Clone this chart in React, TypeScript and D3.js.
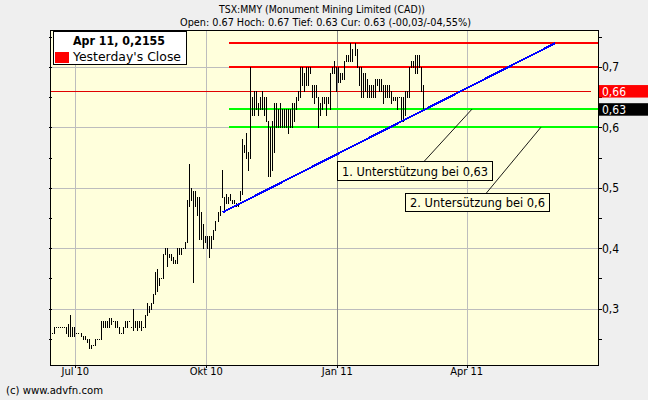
import React from "react";
import * as d3 from "d3";

// ---- data ----
const highs = [
  0.26, 0.27, 0.27, 0.27, 0.27, 0.27, 0.27, 0.27, 0.275, 0.29, 0.27, 0.27,
  0.26, 0.26, 0.26, 0.255, 0.255, 0.25, 0.25, 0.24, 0.24, 0.25, 0.25, 0.25,
  0.28, 0.28, 0.28, 0.28, 0.285, 0.285, 0.28, 0.28, 0.28, 0.27, 0.26, 0.27,
  0.28, 0.28, 0.28, 0.27, 0.30, 0.28, 0.28, 0.28, 0.28, 0.27, 0.29, 0.31,
  0.305, 0.31, 0.325, 0.36, 0.365, 0.35, 0.35, 0.39, 0.40, 0.40, 0.39, 0.39,
  0.385, 0.38, 0.40, 0.40, 0.40, 0.40, 0.41, 0.48, 0.54, 0.50, 0.495, 0.495,
  0.485, 0.485, 0.46, 0.44, 0.42, 0.42, 0.42, 0.42, 0.43, 0.445, 0.46, 0.47,
  0.53, 0.485, 0.49, 0.485, 0.49, 0.48, 0.48, 0.475, 0.475, 0.495, 0.58, 0.57,
  0.59, 0.56, 0.70, 0.65, 0.66, 0.66, 0.64, 0.65, 0.66, 0.65, 0.65, 0.61,
  0.60, 0.61, 0.64, 0.64, 0.63, 0.64, 0.63, 0.63, 0.63, 0.63, 0.63, 0.64,
  0.64, 0.65, 0.66, 0.70, 0.70, 0.69, 0.70, 0.70, 0.70, 0.67, 0.67, 0.67,
  0.65, 0.64, 0.65, 0.65, 0.65, 0.65, 0.69, 0.70, 0.71, 0.70, 0.70, 0.69,
  0.69, 0.71, 0.72, 0.72, 0.74, 0.73, 0.74, 0.73, 0.70, 0.70, 0.69, 0.69,
  0.68, 0.67, 0.67, 0.67, 0.68, 0.68, 0.68, 0.68, 0.67, 0.67, 0.67, 0.67,
  0.66, 0.65, 0.65, 0.65, 0.65, 0.65, 0.65, 0.66, 0.66, 0.70, 0.71, 0.71,
  0.72, 0.72, 0.72, 0.70, 0.67,
];
const lows = [
  0.26, 0.26, 0.27, 0.27, 0.27, 0.27, 0.27, 0.26, 0.255, 0.255, 0.255, 0.255,
  0.26, 0.26, 0.255, 0.25, 0.25, 0.245, 0.235, 0.235, 0.24, 0.24, 0.25, 0.25,
  0.25, 0.27, 0.27, 0.27, 0.27, 0.275, 0.28, 0.27, 0.27, 0.26, 0.26, 0.26,
  0.27, 0.27, 0.28, 0.27, 0.265, 0.27, 0.265, 0.27, 0.265, 0.27, 0.27, 0.29,
  0.295, 0.30, 0.31, 0.325, 0.33, 0.34, 0.35, 0.35, 0.39, 0.37, 0.385, 0.38,
  0.375, 0.375, 0.375, 0.39, 0.39, 0.40, 0.40, 0.41, 0.47, 0.48, 0.345, 0.47,
  0.455, 0.415, 0.415, 0.40, 0.41, 0.40, 0.385, 0.40, 0.415, 0.43, 0.445, 0.455,
  0.485, 0.46, 0.475, 0.475, 0.48, 0.475, 0.475, 0.47, 0.47, 0.48, 0.49, 0.56,
  0.55, 0.53, 0.55, 0.62, 0.62, 0.63, 0.62, 0.63, 0.63, 0.62, 0.61, 0.52,
  0.52, 0.53, 0.56, 0.60, 0.60, 0.60, 0.60, 0.60, 0.60, 0.59, 0.60, 0.60,
  0.61, 0.63, 0.645, 0.65, 0.67, 0.66, 0.67, 0.67, 0.69, 0.65, 0.64, 0.65,
  0.60, 0.62, 0.63, 0.64, 0.62, 0.64, 0.63, 0.69, 0.69, 0.66, 0.675, 0.675,
  0.68, 0.68, 0.71, 0.71, 0.71, 0.71, 0.72, 0.70, 0.67, 0.65, 0.65, 0.66,
  0.65, 0.65, 0.65, 0.65, 0.65, 0.67, 0.66, 0.66, 0.64, 0.65, 0.65, 0.65,
  0.64, 0.645, 0.645, 0.63, 0.65, 0.61, 0.61, 0.62, 0.65, 0.65, 0.70, 0.70,
  0.69, 0.69, 0.70, 0.66, 0.63,
];

// trading-day positions of the month labels
const xTickLabels = ["Jul 10", "Okt 10", "Jan 11", "Apr 11"];
const xTickPos = [11.42, 76.44, 141.46, 205.64];
const yearBoundaryLabel = "Jan 11";

const yMajorTicks = [0.3, 0.4, 0.5, 0.6, 0.7];
const yMinorTicks = [0.25, 0.3, 0.35, 0.4, 0.45, 0.5, 0.55, 0.6, 0.65, 0.7, 0.75];

const resistanceLevels = [0.74, 0.7];
const supportLevels = [0.63, 0.6];
const levelsStartPos = 87.7;
const yesterdayClose = 0.66;
const yesterdayEndPos = 267.3;
const lastPrice = 0.63;

const trendPos = [84.6, 249.5];
const trendVal = [0.4595, 0.739];

const annotationTexts = ["1. Unterstützung bei 0,63", "2. Untersützung bei 0,6"];
const annotationAnchorPos = [208.3, 242.5];
const annotationAnchorVal = [0.63, 0.6];

const titleLine1 = "TSX:MMY (Monument Mining Limited (CAD))";
const titleLine2 = "Open: 0.67 Hoch: 0.67 Tief: 0.63 Cur: 0.63 (-00,03/-04,55%)";
const legendTitle = "Apr 11, 0,2155";
const legendItem = "Yesterday's Close";
const copyright = "(c) www.advfn.com";

// ---- layout ----
const W = 648;
const H = 400;
const PL = 50;
const PR = 598;
const PT = 30;
const PB = 365;

// annotation box layout (pixels)
const annoBoxes = [
  { x: 337.5, y: 161.5, w: 155, h: 19, lineFromX: 424 },
  { x: 405.5, y: 193.5, w: 144, h: 18, lineFromX: 486 },
];

const fmt = (v: number) => String(v).replace(".", ",");
const FONT = "'DejaVu Sans Condensed', 'Liberation Sans Narrow', 'DejaVu Sans', sans-serif";
const FONT2 = "'DejaVu Sans', sans-serif";

export default function App() {
  const x = d3.scaleLinear().domain([-1.14, 270.86]).range([PL, PR]);
  const y = d3.scaleLinear().domain([0.2069, 0.761]).range([PB, PT]);
  const px = (v: number) => Math.round(v) + 0.5;

  const trendLine = d3
    .line<number>()
    .x((d, i) => x(trendPos[i]))
    .y((d) => y(d));

  return (
    <div style={{ position: "absolute", left: 0, top: 0 }}>
      <svg width={W} height={H} style={{ display: "block" }}>
        <rect x={0} y={0} width={W} height={H} fill="#efefef" />
        <rect x={PL} y={PT} width={PR - PL} height={PB - PT} fill="#ffffdc" />

        {/* horizontal grid */}
        {yMajorTicks.map((t) => (
          <line key={"hg" + t} x1={PL} x2={PR} y1={px(y(t))} y2={px(y(t))}
            stroke="#bdbdbd" shapeRendering="crispEdges" />
        ))}
        {/* vertical grid */}
        {xTickPos.map((p, i) => (
          <line key={"vg" + i} x1={px(x(p))} x2={px(x(p))} y1={PT} y2={PB}
            stroke={xTickLabels[i] === yearBoundaryLabel ? "#8a8a8a" : "#bdbdbd"}
            shapeRendering="crispEdges" />
        ))}

        {/* yesterday's close */}
        <line x1={PL} x2={x(yesterdayEndPos)} y1={px(y(yesterdayClose))} y2={px(y(yesterdayClose))}
          stroke="#e00000" shapeRendering="crispEdges" />

        {/* resistance / support */}
        {resistanceLevels.map((v) => (
          <line key={"r" + v} x1={Math.round(x(levelsStartPos))} x2={PR} y1={Math.round(y(v))} y2={Math.round(y(v))}
            stroke="#ff0000" strokeWidth={2} shapeRendering="crispEdges" />
        ))}
        {supportLevels.map((v) => (
          <line key={"s" + v} x1={Math.round(x(levelsStartPos))} x2={PR} y1={Math.round(y(v))} y2={Math.round(y(v))}
            stroke="#00ff00" strokeWidth={2} shapeRendering="crispEdges" />
        ))}

        {/* annotation boxes and connectors */}
        {annotationTexts.map((t, i) => {
          const b = annoBoxes[i];
          return (
            <g key={"an" + i}>
              <line x1={b.lineFromX} y1={b.y} x2={x(annotationAnchorPos[i])} y2={y(annotationAnchorVal[i])}
                stroke="#000" strokeWidth={0.9} />
              <rect x={b.x} y={b.y} width={b.w} height={b.h} fill="#ffffdc" stroke="#000"
                shapeRendering="crispEdges" />
              <text x={b.x + 4.5} y={b.y + b.h - 5} fontFamily={FONT2} fontSize={12} fill="#000"
                textLength={b.w - 9} lengthAdjust="spacingAndGlyphs">{t}</text>
            </g>
          );
        })}

        {/* price bars */}
        {highs.map((h, i) => {
          const yt = Math.round(y(h));
          const yb = Math.round(y(lows[i]));
          return (
            <rect key={"b" + i} x={Math.round(x(i))} y={yt} width={1} height={Math.max(1, yb - yt + 1)}
              fill="#000" shapeRendering="crispEdges" />
          );
        })}

        {/* trend line */}
        <path d={trendLine(trendVal) || ""} fill="none" stroke="#0000ff" strokeWidth={2}
          shapeRendering="crispEdges" />

        {/* frame */}
        <rect x={PL + 0.5} y={PT + 0.5} width={PR - PL} height={PB - PT} fill="none" stroke="#000"
          shapeRendering="crispEdges" />

        {/* left minor ticks */}
        {yMinorTicks.map((t) => (
          <line key={"lt" + t} x1={PL - 1} x2={PL + 2} y1={px(y(t))} y2={px(y(t))} stroke="#000"
            shapeRendering="crispEdges" />
        ))}
        {/* right ticks */}
        {yMinorTicks.map((t) => (
          <line key={"rt" + t} x1={PR} x2={PR + 4} y1={px(y(t))} y2={px(y(t))} stroke="#000"
            shapeRendering="crispEdges" />
        ))}
        {yMajorTicks.map((t) => (
          <text key={"rl" + t} x={PR + 4} y={y(t) + 4.5} fontFamily={FONT} fontSize={12} fill="#000">
            {fmt(t)}
          </text>
        ))}

        {/* price flags */}
        <rect x={PR + 1} y={y(yesterdayClose) - 6} width={W - PR} height={12.5} fill="#ff0000" />
        <text x={PR + 4} y={y(yesterdayClose) + 4.5} fontFamily={FONT} fontSize={12} fill="#fff">
          {fmt(yesterdayClose)}
        </text>
        <rect x={PR + 1} y={y(lastPrice) - 6} width={W - PR} height={12.5} fill="#000" />
        <text x={PR + 4} y={y(lastPrice) + 4.5} fontFamily={FONT} fontSize={12} fill="#fff">
          {fmt(lastPrice)}
        </text>

        {/* x tick labels */}
        {xTickPos.map((p, i) => (
          <g key={"xl" + i}>
            <line x1={px(x(p))} x2={px(x(p))} y1={PB} y2={PB + 3} stroke="#000" shapeRendering="crispEdges" />
            <text x={x(p)} y={375} textAnchor="middle" fontFamily={FONT} fontSize={11} fill="#000">
              {xTickLabels[i]}
            </text>
          </g>
        ))}

        {/* legend */}
        <rect x={53.5} y={31.5} width={133} height={33} fill="#fff" stroke="#000" shapeRendering="crispEdges" />
        <text x={73} y={45} fontFamily={FONT2} fontSize={12.5} fontWeight="bold" fill="#000"
          textLength={92} lengthAdjust="spacingAndGlyphs">{legendTitle}</text>
        <rect x={55} y={52} width={14} height={11} fill="#ff0000" />
        <text x={73} y={60.5} fontFamily={FONT2} fontSize={12.5} fill="#000"
          textLength={108} lengthAdjust="spacingAndGlyphs">{legendItem}</text>

        {/* titles */}
        <text x={322} y={12.5} textAnchor="middle" fontFamily={FONT} fontSize={11} fill="#000"
          textLength={206} lengthAdjust="spacingAndGlyphs">{titleLine1}</text>
        <text x={325.5} y={26} textAnchor="middle" fontFamily={FONT} fontSize={11} fill="#000"
          textLength={291} lengthAdjust="spacingAndGlyphs">{titleLine2}</text>

        <text x={6} y={394} fontFamily={FONT} fontSize={11} fill="#000"
          textLength={97} lengthAdjust="spacingAndGlyphs">{copyright}</text>
      </svg>
    </div>
  );
}
